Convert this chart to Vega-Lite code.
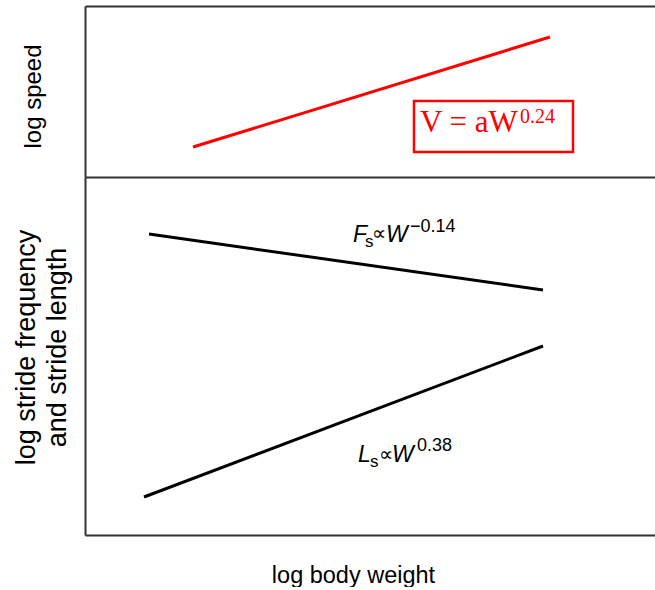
{
  "$schema": "https://vega.github.io/schema/vega-lite/v6.json",
  "padding": {"left": 12, "top": 6, "right": 0, "bottom": 0},
  "background": "white",
  "spacing": 0,
  "bounds": "flush",
  "config": {
    "view": {"stroke": null},
    "axis": {"domainColor": "#333333", "domainWidth": 2, "ticks": false, "labels": false, "grid": false, "titleFont": "Liberation Sans", "titleFontWeight": "normal", "titleColor": "black"}
  },
  "datasets": {
    "speed": [{"x": 108, "y": 30}, {"x": 465, "y": 140}],
    "box": [{"x": 329, "x2": 488, "y": 25, "y2": 76}],
    "speedMain": [{"x": 335, "y": 45, "label": "V = aW"}],
    "speedSup": [{"x": 435, "y": 54, "label": "0.24"}],
    "stride": [
      {"series": "Fs", "x": 64, "y": 301}, {"series": "Fs", "x": 458, "y": 245},
      {"series": "Ls", "x": 59, "y": 38}, {"series": "Ls", "x": 458, "y": 189}
    ],
    "italic": [
      {"x": 268, "y": 293, "label": "F"}, {"x": 301, "y": 293, "label": "W"},
      {"x": 273, "y": 73, "label": "L"}, {"x": 307, "y": 73, "label": "W"}
    ],
    "sub": [{"x": 280, "y": 288, "label": "s"}, {"x": 285, "y": 68, "label": "s"}],
    "prop": [{"x": 287, "y": 301, "label": "∝"}, {"x": 294, "y": 80.5, "label": "∝"}],
    "sup": [{"x": 325, "y": 303, "label": "−0.14"}, {"x": 332, "y": 84, "label": "0.38"}]
  },
  "vconcat": [
    {
      "width": 570,
      "height": 171,
      "layer": [
        {
          "data": {"name": "speed"},
          "mark": {"type": "line", "color": "#ff0000", "strokeWidth": 3},
          "encoding": {
            "x": {"field": "x", "type": "quantitative", "scale": {"domain": [0, 570], "nice": false, "zero": false}, "axis": {"orient": "top", "title": null}},
            "y": {"field": "y", "type": "quantitative", "scale": {"domain": [0, 171], "nice": false, "zero": false}, "axis": {"title": "log speed", "titleAngle": -90, "titleX": -52, "titleY": 90, "titleFontSize": 24, "titleBaseline": "middle", "titleAlign": "center"}}
          }
        },
        {
          "data": {"name": "box"},
          "mark": {"type": "rect", "fill": "white", "stroke": "#ff0000", "strokeWidth": 2.5},
          "encoding": {
            "x": {"field": "x", "type": "quantitative"},
            "x2": {"field": "x2"},
            "y": {"field": "y", "type": "quantitative"},
            "y2": {"field": "y2"}
          }
        },
        {
          "data": {"name": "speedMain"},
          "mark": {"type": "text", "font": "Liberation Serif", "fontSize": 31, "color": "#ff0000", "align": "left", "baseline": "alphabetic"},
          "encoding": {
            "x": {"field": "x", "type": "quantitative"},
            "y": {"field": "y", "type": "quantitative"},
            "text": {"field": "label"}
          }
        },
        {
          "data": {"name": "speedSup"},
          "mark": {"type": "text", "font": "Liberation Serif", "fontSize": 20, "color": "#ff0000", "align": "left", "baseline": "alphabetic"},
          "encoding": {
            "x": {"field": "x", "type": "quantitative"},
            "y": {"field": "y", "type": "quantitative"},
            "text": {"field": "label"}
          }
        }
      ]
    },
    {
      "width": 570,
      "height": 358,
      "resolve": {"axis": {"x": "independent"}},
      "layer": [
        {
          "data": {"name": "stride"},
          "mark": {"type": "line", "color": "black", "strokeWidth": 3},
          "encoding": {
            "x": {"field": "x", "type": "quantitative", "scale": {"domain": [0, 570], "nice": false, "zero": false}, "axis": {"orient": "bottom", "title": "log body weight", "titleFontSize": 23.5, "titleX": 268, "titleY": 47, "titleAlign": "center", "titleBaseline": "alphabetic"}},
            "y": {"field": "y", "type": "quantitative", "scale": {"domain": [0, 358], "nice": false, "zero": false}, "axis": {"title": ["log stride frequency", "and stride length"], "titleAngle": -90, "titleX": -59, "titleY": 170, "titleFontSize": 27, "titleLineHeight": 31, "titleBaseline": "middle", "titleAlign": "center"}},
            "detail": {"field": "series"}
          }
        },
        {
          "data": {"name": "italic"},
          "mark": {"type": "text", "font": "Liberation Sans", "fontStyle": "italic", "fontSize": 23, "color": "black", "align": "left", "baseline": "alphabetic"},
          "encoding": {
            "x": {"field": "x", "type": "quantitative", "axis": {"orient": "top", "title": null}},
            "y": {"field": "y", "type": "quantitative"},
            "text": {"field": "label"}
          }
        },
        {
          "data": {"name": "sub"},
          "mark": {"type": "text", "font": "Liberation Sans", "fontSize": 17, "color": "black", "align": "left", "baseline": "alphabetic"},
          "encoding": {
            "x": {"field": "x", "type": "quantitative", "axis": null},
            "y": {"field": "y", "type": "quantitative"},
            "text": {"field": "label"}
          }
        },
        {
          "data": {"name": "prop"},
          "mark": {"type": "text", "font": "DejaVu Sans", "fontSize": 20, "color": "black", "align": "left", "baseline": "middle"},
          "encoding": {
            "x": {"field": "x", "type": "quantitative", "axis": null},
            "y": {"field": "y", "type": "quantitative"},
            "text": {"field": "label"}
          }
        },
        {
          "data": {"name": "sup"},
          "mark": {"type": "text", "font": "Liberation Sans", "fontSize": 18, "color": "black", "align": "left", "baseline": "alphabetic"},
          "encoding": {
            "x": {"field": "x", "type": "quantitative", "axis": null},
            "y": {"field": "y", "type": "quantitative"},
            "text": {"field": "label"}
          }
        }
      ]
    }
  ]
}
